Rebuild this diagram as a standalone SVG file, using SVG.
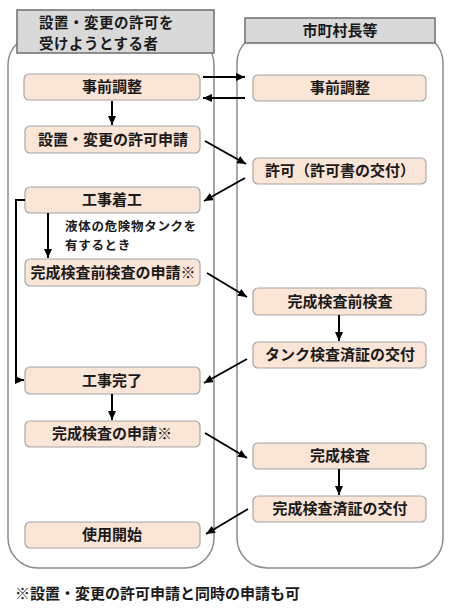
<svg xmlns="http://www.w3.org/2000/svg" width="450" height="611" viewBox="0 0 450 611">
<style>
.lane{fill:#fff;stroke:#8c8c8c;stroke-width:1.5}
.hdr{fill:#d9d9d9;stroke:#6e6e6e;stroke-width:1.5}
.box{fill:#fbe5d6;stroke:#a6a6a6;stroke-width:1.2}
text{font-family:"Noto Sans CJK JP","Noto Sans CJK SC",sans-serif;font-weight:bold;fill:#1a1a1a}
.t{font-size:15px;text-anchor:middle}
.h{font-size:15px}
.h2{font-size:14.5px;letter-spacing:0.5px}
.s{font-size:12.5px;letter-spacing:0.7px}
.c path,.c line,.c polyline{stroke:#000;stroke-width:2;fill:none}
</style>
<defs>
<marker id="a" markerUnits="userSpaceOnUse" markerWidth="9" markerHeight="8" refX="9" refY="4" orient="auto">
<path d="M0,0 L9,4 L0,8 z" fill="#000"/>
</marker>
</defs>
<rect width="450" height="611" fill="#fff"/>
<g id="lane-left">
<rect class="lane" x="8" y="35" width="206" height="533" rx="30"/>
<rect class="hdr" x="17" y="10" width="197" height="43"/>
<text class="h2" x="39" y="27.5">設置・変更の許可を</text>
<text class="h2" x="39" y="48.5">受けようとする者</text>
</g>
<g id="lane-right">
<rect class="lane" x="237" y="33" width="206" height="535" rx="30"/>
<rect class="hdr" x="245" y="18" width="190" height="25"/>
<text class="t" x="340" y="36">市町村長等</text>
</g>
<g id="n1"><rect class="box" x="24" y="74" width="176" height="26" rx="5"/><text class="t" x="112" y="92">事前調整</text></g>
<g id="n2"><rect class="box" x="25" y="126" width="175" height="27" rx="5"/><text class="t" x="113" y="145">設置・変更の許可申請</text></g>
<g id="n3"><rect class="box" x="25" y="187" width="175" height="26" rx="5"/><text class="t" x="112" y="205">工事着工</text></g>
<g id="n4"><rect class="box" x="25" y="259" width="175" height="27" rx="5"/><text class="t" x="113" y="278">完成検査前検査の申請※</text></g>
<g id="n5"><rect class="box" x="25" y="367" width="175" height="27" rx="5"/><text class="t" x="112" y="386">工事完了</text></g>
<g id="n6"><rect class="box" x="25" y="421" width="175" height="26" rx="5"/><text class="t" x="112" y="439">完成検査の申請※</text></g>
<g id="n7"><rect class="box" x="25" y="522" width="175" height="26" rx="5"/><text class="t" x="112" y="540">使用開始</text></g>
<g id="r1"><rect class="box" x="253" y="75" width="173" height="26" rx="5"/><text class="t" x="340" y="93">事前調整</text></g>
<g id="r2"><rect class="box" x="253" y="158" width="173" height="26" rx="5"/><text class="t" x="340" y="176">許可（許可書の交付）</text></g>
<g id="r3"><rect class="box" x="253" y="288" width="173" height="27" rx="5"/><text class="t" x="340" y="307">完成検査前検査</text></g>
<g id="r4"><rect class="box" x="253" y="342" width="173" height="26" rx="5"/><text class="t" x="340" y="360">タンク検査済証の交付</text></g>
<g id="r5"><rect class="box" x="253" y="443" width="173" height="26" rx="5"/><text class="t" x="340" y="461">完成検査</text></g>
<g id="r6"><rect class="box" x="253" y="496" width="173" height="26" rx="5"/><text class="t" x="340" y="514">完成検査済証の交付</text></g>
<g id="connectors" class="c">
<line x1="203" y1="77" x2="245" y2="77" marker-end="url(#a)"/>
<line x1="245" y1="98" x2="203" y2="98" marker-end="url(#a)"/>
<line x1="112" y1="101" x2="112" y2="125" marker-end="url(#a)"/>
<line x1="205" y1="141" x2="246" y2="164" marker-end="url(#a)"/>
<line x1="245" y1="178" x2="204" y2="201" marker-end="url(#a)"/>
<line x1="48" y1="213" x2="48" y2="258" marker-end="url(#a)"/>
<polyline points="25,200 16,200 16,380 24,380" marker-end="url(#a)"/>
<line x1="207" y1="273" x2="247" y2="297" marker-end="url(#a)"/>
<line x1="339" y1="315" x2="339" y2="341" marker-end="url(#a)"/>
<line x1="247" y1="359" x2="204" y2="383" marker-end="url(#a)"/>
<line x1="112" y1="394" x2="112" y2="420" marker-end="url(#a)"/>
<line x1="205" y1="433" x2="247" y2="458" marker-end="url(#a)"/>
<line x1="339" y1="469" x2="339" y2="495" marker-end="url(#a)"/>
<line x1="248" y1="509" x2="206" y2="534" marker-end="url(#a)"/>
</g>
<text class="s" x="65" y="231">液体の危険物タンクを</text>
<text class="s" x="65" y="249.5">有するとき</text>
<text class="h" x="15" y="599">※設置・変更の許可申請と同時の申請も可</text>
</svg>
